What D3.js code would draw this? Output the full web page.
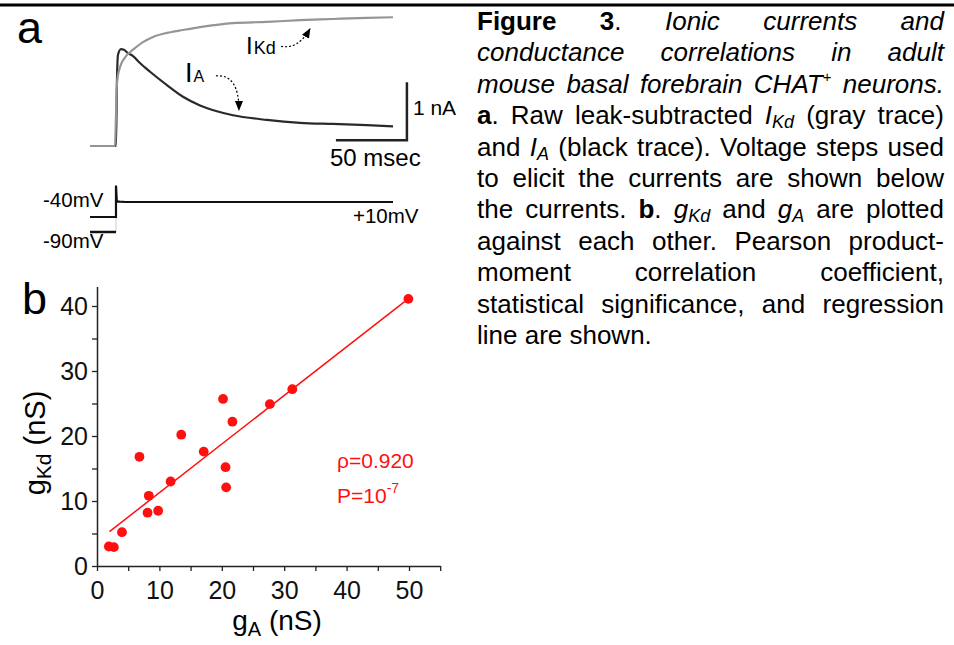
<!DOCTYPE html>
<html>
<head>
<meta charset="utf-8">
<script src="https://cdn.jsdelivr.net/npm/d3@7"></script>
<style>
  body { margin: 0; background: #fff; }
  svg { display: block; font-family: "Liberation Sans", Arial, Helvetica, sans-serif; }
</style>
</head>
<body>
<svg id="fig" width="954" height="645"></svg>
<script>
// panel a -- currents (time in ms, current in nA)
var timeKd = [0, 17.6, 18.3, 19.0, 21.1, 26.1, 30.3, 37.3, 44.4, 54.2, 65.5, 77.5, 100.7, 124.6, 147.9, 171.1, 195.1, 213.4];
var currentKd = [0, 0, 0.53, 1.09, 1.36, 1.57, 1.66, 1.79, 1.88, 1.95, 2.0, 2.05, 2.12, 2.14, 2.17, 2.19, 2.21, 2.22];
var timeA = [0, 18.3, 19.0, 19.7, 21.8, 23.9, 26.8, 30.3, 35.2, 42.3, 54.2, 65.5, 77.5, 89.4, 100.7, 124.6, 147.9, 171.1, 195.1, 213.4];
var currentA = [0, 0, 1.14, 1.57, 1.67, 1.66, 1.60, 1.55, 1.43, 1.28, 1.05, 0.85, 0.70, 0.60, 0.53, 0.45, 0.40, 0.38, 0.36, 0.34];

// voltage protocols (ms, mV)
var stepTimes = [0, 18.3, 18.3, 18.9, 21, 25, 213.4];
var stepFrom40 = [-40, -40, 65, 12, 11, 10, 10];
var holdTimes = [0, 18.3];
var holdFrom90 = [-90, -90];

// panel b -- conductances (nS)
var gA = [1.9, 2.7, 4.0, 6.8, 8.1, 8.3, 9.8, 11.8, 13.5, 17.1, 20.2, 20.6, 20.7, 21.7, 27.7, 31.3, 49.9];
var gKd = [3.0, 2.9, 5.2, 16.8, 8.2, 10.8, 8.5, 13.0, 20.2, 17.6, 25.7, 15.2, 12.1, 22.2, 24.9, 27.2, 41.1];
var fitSlope = 0.748, fitIntercept = 3.8, fitFrom = 2.0, fitTo = 49.3;
var xTicks = [0, 5, 10, 15, 20, 25, 30, 35, 40, 45, 50, 55];
var yTicks = [0, 5, 10, 15, 20, 25, 30, 35, 40];

function w(s) {
  return s.split(' ').map(function(x) { return [[x, 'n']]; });
}
var captionLines = [
  [[['Figure', 'b']], [['3', 'b'], ['.', 'n']], [['Ionic', 'i']], [['currents', 'i']], [['and', 'i']]],
  [[['conductance', 'i']], [['correlations', 'i']], [['in', 'i']], [['adult', 'i']]],
  [[['mouse', 'i']], [['basal', 'i']], [['forebrain', 'i']], [['CHAT', 'i'], ['+', 'p']], [['neurons.', 'i']]],
  [[['a', 'b'], ['.', 'n']]].concat(w('Raw leak-subtracted'), [[['I', 'i'], ['Kd', 'is']]], w('(gray trace)')),
  w('and').concat([[['I', 'i'], ['A', 'is']]], w('(black trace). Voltage steps used')),
  w('to elicit the currents are shown below'),
  w('the currents.').concat([[['b', 'b'], ['.', 'n']], [['g', 'i'], ['Kd', 'is']]], w('and'), [[['g', 'i'], ['A', 'is']]], w('are plotted')),
  w('against each other. Pearson product-'),
  w('moment correlation coefficient,'),
  w('statistical significance, and regression'),
  w('line are shown.')
];

var svg = d3.select('#fig');

// top rule
svg.append('rect').attr('x', 0).attr('y', 3.5).attr('width', 954).attr('height', 3).attr('fill', '#000');

// ---------- panel a ----------
var tx = d3.scaleLinear().domain([0, 213.4]).range([90, 393]);
var iy = d3.scaleLinear().domain([0, 1]).range([146, 88]);
var vy = d3.scaleLinear().domain([-90, 10]).range([232, 202]);

var defs = svg.append('defs');
defs.append('marker').attr('id', 'head')
    .attr('viewBox', '0 -5 10 10').attr('refX', 9).attr('refY', 0)
    .attr('markerUnits', 'userSpaceOnUse').attr('markerWidth', 10).attr('markerHeight', 10)
    .attr('orient', 'auto')
  .append('path').attr('d', 'M0,-4L10,0L0,4Z').attr('fill', '#000');

svg.append('text').attr('x', 17).attr('y', 43).attr('font-size', 45).text('a');

var lineA = d3.line().x(function(d, i) { return tx(timeA[i]); }).y(function(d) { return iy(d); }).curve(d3.curveMonotoneX);
var lineKd = d3.line().x(function(d, i) { return tx(timeKd[i]); }).y(function(d) { return iy(d); }).curve(d3.curveMonotoneX);

svg.append('path').attr('d', lineA(currentA)).attr('fill', 'none').attr('stroke', '#2a2a2a').attr('stroke-width', 2.2);
svg.append('path').attr('d', lineKd(currentKd)).attr('fill', 'none').attr('stroke', '#959595').attr('stroke-width', 2.2);

// labels + dashed arrows
var lbKd = svg.append('text').attr('x', tx(109.9)).attr('y', iy(1.59));
lbKd.append('tspan').attr('font-size', 24).text('I');
lbKd.append('tspan').attr('font-size', 18).attr('dx', 1).text('Kd');
var lbA = svg.append('text').attr('x', tx(66.9)).attr('y', iy(1.10));
lbA.append('tspan').attr('font-size', 27).text('I');
lbA.append('tspan').attr('font-size', 16).attr('dx', 1).text('A');

function arrow(p0, c, p1) {
  var p = d3.path();
  p.moveTo(tx(p0[0]), iy(p0[1]));
  p.quadraticCurveTo(tx(c[0]), iy(c[1]), tx(p1[0]), iy(p1[1]));
  svg.append('path').attr('d', p.toString()).attr('fill', 'none')
    .attr('stroke', '#000').attr('stroke-width', 1.2).attr('stroke-dasharray', '2,2')
    .attr('marker-end', 'url(#head)');
}
arrow([134.5, 1.72], [146.5, 1.66], [154.9, 2.02]);
arrow([88.7, 1.21], [104.9, 1.24], [104.9, 0.62]);

// scale bar
svg.append('path')
  .attr('d', 'M' + tx(173.2) + ',' + iy(0.1) + 'H' + tx(223.2) + 'V' + iy(1.1))
  .attr('fill', 'none').attr('stroke', '#222').attr('stroke-width', 2.5);
svg.append('text').attr('x', tx(223.2) + 6).attr('y', 115).attr('font-size', 21).text('1 nA');
svg.append('text').attr('x', 330).attr('y', 166).attr('font-size', 24).text('50 msec');

// voltage steps
var vLine = d3.line().x(function(d, i) { return tx(stepTimes[i]); }).y(function(d) { return vy(d); });
var hLine = d3.line().x(function(d, i) { return tx(holdTimes[i]); }).y(function(d) { return vy(d); });
svg.append('path').attr('d', 'M' + tx(18.3) + ',' + vy(-90) + 'V' + vy(-40))
  .attr('stroke', '#ccc').attr('stroke-width', 1);
svg.append('path').attr('d', vLine(stepFrom40)).attr('fill', 'none').attr('stroke', '#111').attr('stroke-width', 2.2);
svg.append('path').attr('d', hLine(holdFrom90)).attr('fill', 'none').attr('stroke', '#111').attr('stroke-width', 2.5);
svg.append('text').attr('x', 43).attr('y', 207).attr('font-size', 20.5).text('-40mV');
svg.append('text').attr('x', 43).attr('y', 248).attr('font-size', 20.5).text('-90mV');
svg.append('text').attr('x', 353).attr('y', 223).attr('font-size', 20.5).text('+10mV');

// ---------- panel b ----------
var x = d3.scaleLinear().domain([0, 55]).range([97, 440.2]);
var y = d3.scaleLinear().domain([0, 43]).range([566, 286.5]);

svg.append('text').attr('x', 22).attr('y', 314).attr('font-size', 45).text('b');

var gx = svg.append('g').attr('transform', 'translate(0,' + y(0) + ')')
  .call(d3.axisBottom(x).tickValues(xTicks)
    .tickFormat(function(d) { return d % 10 === 0 ? d : ''; })
    .tickSize(5).tickSizeOuter(0).tickPadding(10));
var gy = svg.append('g').attr('transform', 'translate(' + x(0) + ',0)')
  .call(d3.axisLeft(y).tickValues(yTicks)
    .tickFormat(function(d) { return d % 10 === 0 ? d : ''; })
    .tickSize(5).tickSizeOuter(0).tickPadding(4));
[gx, gy].forEach(function(g) {
  g.attr('font-family', null).attr('font-size', 25).attr('color', '#222');
  g.select('.domain').attr('stroke-width', 1.5);
  g.selectAll('.tick line').attr('stroke-width', 1.3);
  g.selectAll('.tick text').attr('fill', '#111');
});

svg.append('line')
  .attr('x1', x(fitFrom)).attr('y1', y(fitIntercept + fitSlope * fitFrom))
  .attr('x2', x(fitTo)).attr('y2', y(fitIntercept + fitSlope * fitTo))
  .attr('stroke', '#ff1010').attr('stroke-width', 1.5);

svg.append('g').selectAll('circle').data(gA).enter().append('circle')
  .attr('cx', function(d) { return x(d); })
  .attr('cy', function(d, i) { return y(gKd[i]); })
  .attr('r', 4.9)
  .attr('fill', '#ff1010');

svg.append('text').attr('x', 337).attr('y', 468).attr('font-size', 21).attr('fill', '#ff1010').text('ρ=0.920');
var pt = svg.append('text').attr('x', 337).attr('y', 503).attr('font-size', 21).attr('fill', '#ff1010');
pt.append('tspan').text('P=10');
pt.append('tspan').attr('font-size', 14).attr('dy', -10).text('-7');

var xt = svg.append('text').attr('x', 277).attr('y', 630).attr('font-size', 28).attr('text-anchor', 'middle');
xt.append('tspan').text('g');
xt.append('tspan').attr('font-size', 20).attr('dy', 6).text('A');
xt.append('tspan').attr('dy', -6).text(' (nS)');

var yt = svg.append('text').attr('transform', 'translate(45,443) rotate(-90)').attr('font-size', 29).attr('text-anchor', 'middle');
yt.append('tspan').text('g');
yt.append('tspan').attr('font-size', 21).attr('dy', 6).text('Kd');
yt.append('tspan').attr('dy', -6).text(' (nS)');

// ---------- caption (justified) ----------
var capLeft = 477, capRight = 944, capTop = 30, capStep = 31.4;
var cap = svg.append('g').attr('font-size', 26).attr('fill', '#000');
captionLines.forEach(function(words, li) {
  var yy = capTop + li * capStep;
  var texts = words.map(function(runs) {
    var t = cap.append('text').attr('y', yy);
    runs.forEach(function(r) {
      var ts = t.append('tspan').text(r[0]);
      if (r[1].indexOf('b') >= 0) ts.attr('font-weight', 'bold');
      if (r[1].indexOf('i') >= 0) ts.attr('font-style', 'italic');
      if (r[1].indexOf('s') >= 0) ts.attr('font-size', 18).attr('dy', 4);
      if (r[1].indexOf('p') >= 0) ts.attr('font-size', 15).attr('dy', -11);
    });
    return t;
  });
  var widths = texts.map(function(t) { return t.node().getComputedTextLength(); });
  var total = d3.sum(widths);
  var gap = li === captionLines.length - 1 ? 7.2 : (capRight - capLeft - total) / (texts.length - 1);
  var cx = capLeft;
  texts.forEach(function(t, k) {
    t.attr('x', cx);
    cx += widths[k] + gap;
  });
});
</script>
</body>
</html>
